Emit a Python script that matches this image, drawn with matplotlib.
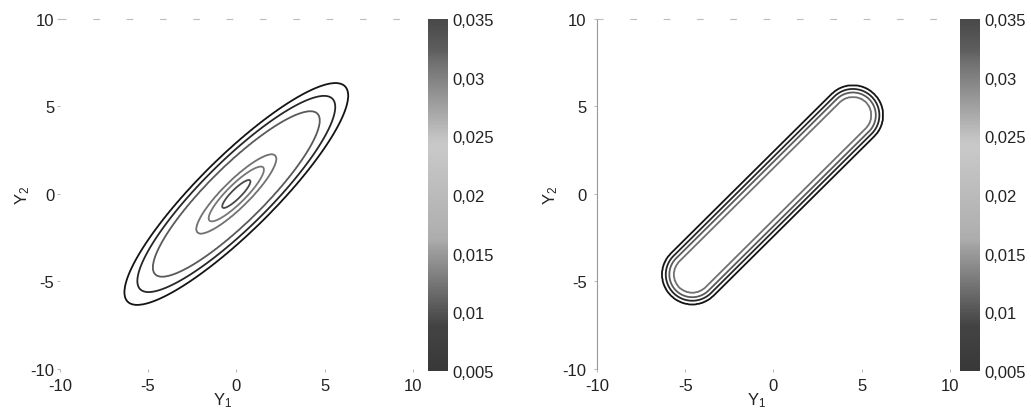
import numpy as np
import matplotlib
matplotlib.use('Agg')
import matplotlib.pyplot as plt
from matplotlib.colors import LinearSegmentedColormap, Normalize
from matplotlib.cm import ScalarMappable
from matplotlib.ticker import FuncFormatter

plt.rcParams['font.family'] = ['Liberation Sans', 'DejaVu Sans']
plt.rcParams['mathtext.default'] = 'regular'
plt.rcParams['axes.unicode_minus'] = False
plt.rcParams['font.size'] = 12

# contour levels (same colour scale for both panels)
levels_left = [0.005, 0.01, 0.015, 0.02, 0.025, 0.03]
levels_right = [0.005, 0.01, 0.015, 0.02]
cbar_ticks = [0.005, 0.01, 0.015, 0.02, 0.025, 0.03, 0.035]

# left panel: half length of each contour along the 45 deg axis
left_semi = [10.5, 8.7, 7.7, 6.5, 3.1, 2.15, 1.1, 0.0]
left_vals = [0.0, 0.005, 0.01, 0.015, 0.02, 0.025, 0.03, 0.034]
left_ratio = 0.245  # minor / major axis

# right panel: distance of each contour from the centre segment
right_seg = [(-4.6, -4.6), (4.5, 4.5)]
right_dist = [3.2, 1.7, 1.5, 1.3, 1.05, 0.0]
right_vals = [0.0, 0.005, 0.01, 0.015, 0.02, 0.023]


def gray_jet(lo, span):
    # jet printed in grey: dark at both ends, light in the middle
    jet = plt.get_cmap('jet')
    xs = np.linspace(0, 1, 256)
    rgb = jet(xs)[:, :3]
    lum = 0.299 * rgb[:, 0] + 0.587 * rgb[:, 1] + 0.114 * rgb[:, 2]
    g = lo + span * lum
    return LinearSegmentedColormap.from_list('grayjet', np.c_[g, g, g])


cmap = gray_jet(0.18, 0.70)
line_cmap = gray_jet(0.05, 0.5)

x = np.linspace(-10, 10, 501)
X, Y = np.meshgrid(x, x)

# left field
U = (X + Y) / np.sqrt(2)
V = (Y - X) / np.sqrt(2)
R = np.sqrt(U ** 2 + (V / left_ratio) ** 2)
Z_left = np.interp(R, left_semi[::-1], left_vals[::-1])

# right field
p0 = np.array(right_seg[0])
p1 = np.array(right_seg[1])
d = p1 - p0
t = np.clip(((X - p0[0]) * d[0] + (Y - p0[1]) * d[1]) / (d @ d), 0, 1)
D = np.hypot(X - (p0[0] + t * d[0]), Y - (p0[1] + t * d[1]))
Z_right = np.interp(D, right_dist[::-1], right_vals[::-1])

fig = plt.figure(figsize=(10.31, 4.10), dpi=100)

panels = [
    (0.058, 0.415, Z_left, levels_left, False, 0.079, 0.462, 1.5),
    (0.579, 0.931, Z_right, levels_right, True, 0.105, 0.453, 5),
]
for ax_x, cb_x, Z, lev, left_spine, ylab_x, xlab_x, ypad in panels:
    norm = Normalize(vmin=0.005, vmax=0.035)
    ax = fig.add_axes([ax_x, 0.0976, 0.3424, 0.8537])
    ax.contour(X, Y, Z, levels=lev, cmap=line_cmap, norm=norm, linewidths=1.3)
    ax.set_xlim(-10, 10)
    ax.set_ylim(-10, 10)
    ax.set_xticks([-10, -5, 0, 5, 10])
    ax.set_yticks([-10, -5, 0, 5, 10])
    ax.tick_params(length=2.5, color='#bbbbbb', labelcolor='#222222')
    ax.tick_params(axis='x', pad=4)
    ax.tick_params(axis='y', pad=ypad)
    for s in ['right', 'bottom']:
        ax.spines[s].set_visible(False)
    ax.spines['top'].set_color('#bbbbbb')
    ax.spines['top'].set_linestyle((0, (5, 25)))
    ax.spines['left'].set_visible(left_spine)
    ax.spines['left'].set_color('#999999')
    ax.set_xlabel('Y$_1$', color='#222222')
    ax.set_ylabel('Y$_2$', color='#222222')
    ax.xaxis.set_label_coords(xlab_x, -0.062)
    ax.yaxis.set_label_coords(-ylab_x, 0.5)

    cax = fig.add_axes([cb_x, 0.0927, 0.0194, 0.8585])
    cb = fig.colorbar(ScalarMappable(norm=norm, cmap=cmap), cax=cax)
    cb.set_ticks(cbar_ticks)
    cb.ax.yaxis.set_major_formatter(FuncFormatter(lambda v, p: ('%g' % v).replace('.', ',')))
    cb.ax.tick_params(length=0, pad=3, labelcolor='#222222')
    cb.outline.set_visible(False)

fig.savefig('out.png', dpi=100)
